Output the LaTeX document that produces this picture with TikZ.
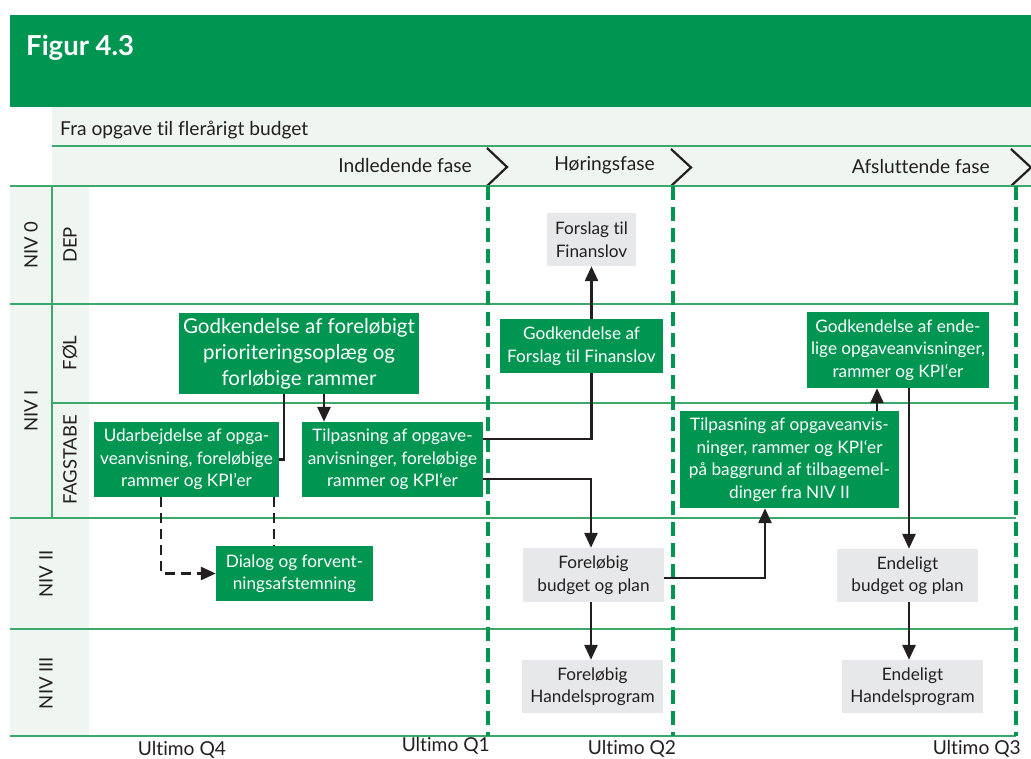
\documentclass[tikz,border=0pt]{standalone}
\usepackage{fontspec}
\setmainfont{Lato}[Ligatures={NoCommon}]
\usetikzlibrary{arrows.meta,calc}
\definecolor{dgreen}{RGB}{0,150,82}
\definecolor{lgreen}{RGB}{60,168,108}
\definecolor{lightbg}{RGB}{239,245,241}
\definecolor{boxgray}{RGB}{231,232,233}
\definecolor{ink}{RGB}{35,31,32}
\tikzset{
  gbox/.style={fill=dgreen, text=white, inner sep=0pt, align=center, font=\fontsize{17.2}{22.5}\selectfont},
  bigbox/.style={gbox, font=\fontsize{20.5}{26}\selectfont},
  graybox/.style={fill=boxgray, text=ink, inner sep=0pt, align=center, font=\fontsize{17.2}{22.5}\selectfont},
  conn/.style={line width=2.8pt, ink},
  arr/.style={conn, -{Triangle[length=15pt,width=13pt]}},
  dconn/.style={conn, dash pattern=on 10pt off 6pt},
  darr/.style={dconn, -{Triangle[length=15pt,width=13pt]}},
  gline/.style={lgreen, line width=1.5pt},
  gdash/.style={dgreen, line width=3.2pt, dash pattern=on 14pt off 7pt},
  chev/.style={ink, line width=2.2pt},
  lbl/.style={text=ink, inner sep=0pt, font=\fontsize{19.2}{22}\selectfont},
  sidelbl/.style={text=ink, inner sep=0pt, rotate=90, font=\fontsize{18.5}{20}\selectfont}
}
\begin{document}
\begin{tikzpicture}[x=1pt,y=-1pt]
\useasboundingbox (0,0) rectangle (1031,758);
% header
\fill[dgreen] (10,15) rectangle (1031,107);
\node[anchor=base west, text=white, inner sep=0pt, font=\fontsize{27.5}{30}\selectfont\bfseries] (fig) at (26,55) {Figur 4.3};
\fill[lightbg] (52,107) rectangle (1031,186);
\node[lbl, anchor=base west] (title) at (60,135) {Fra opgave til flerårigt budget};
\draw[gline] (52,146) -- (1031,146);
% left columns
\fill[lightbg] (10,186) rectangle (89,736);
% phase labels
\node[lbl, anchor=east] (ph1) at (472,166) {Indledende fase};
\node[lbl, anchor=east] (ph2) at (655,165) {Høringsfase};
\node[lbl, anchor=east] (ph3) at (990,167) {Afsluttende fase};
\draw[chev] (487,148) -- (507,167) -- (487,186);
\draw[chev] (671,149) -- (691,167.5) -- (671,186);
\draw[chev] (1011,149) -- (1031,167.5) -- (1011,186);
% grid lines
\draw[gline] (10,186) -- (1031,186);
\draw[gline] (10,304) -- (1016,304);
\draw[gline] (52,403) -- (1016,403);
\draw[gline] (10,518) -- (1016,518);
\draw[gline] (10,629) -- (1016,629);
\draw[gline] (10,736) -- (1016,736);
\draw[gline] (52,186) -- (52,518);
% side labels
\node[sidelbl] (n0) at (31,245) {NIV 0};
\node[sidelbl] (n1) at (31,411) {NIV I};
\node[sidelbl] (n2) at (46,574) {NIV II};
\node[sidelbl] (n3) at (46,683) {NIV III};
\node[sidelbl] (dep) at (70,245) {DEP};
\node[sidelbl] (fol) at (70,353) {FØL};
\node[sidelbl] (fag) at (70,460) {FAGSTABE};
% dashed phase boundaries
\draw[gdash] (488,186) -- (488,736);
\draw[gdash] (673,186) -- (673,736);
\draw[gdash] (1016,186) -- (1016,736);
% boxes
\node[bigbox, minimum width=240pt, minimum height=81pt] (godk1) at (299,353.5) {Godkendelse af foreløbigt\\prioriteringsoplæg og\\forløbige rammer};
\node[gbox, minimum width=185pt, minimum height=75pt] (udarb) at (186.5,459.5) {Udarbejdelse af opga-\\veanvisning, foreløbige\\rammer og KPI’er};
\node[gbox, minimum width=181pt, minimum height=75pt] (tilp1) at (392.5,459.5) {Tilpasning af opgave-\\anvisninger, foreløbige\\rammer og KPI‘er};
\node[gbox, minimum width=157pt, minimum height=55pt] (dialog) at (294.5,573.5) {Dialog og forvent-\\ningsafstemning};
\node[graybox, minimum width=89pt, minimum height=53pt] (forslag) at (591.5,239.5) {Forslag til\\Finanslov};
\node[gbox, minimum width=163pt, minimum height=54pt] (godk2) at (581.5,346) {Godkendelse af\\Forslag til Finanslov};
\node[gbox, minimum width=182pt, minimum height=76pt] (godk3) at (898,350) {Godkendelse af ende-\\lige opgaveanvisninger,\\rammer og KPI‘er};
\node[gbox, minimum width=219pt, minimum height=97pt] (tilp2) at (789.5,459.5) {Tilpasning af opgaveanvis-\\ninger, rammer og KPI‘er\\på baggrund af tilbagemel-\\dinger fra NIV II};
\node[graybox, minimum width=141pt, minimum height=54pt] (forel1) at (593.5,575) {Foreløbig\\budget og plan};
\node[graybox, minimum width=141pt, minimum height=53pt] (forel2) at (592.5,686.5) {Foreløbig\\Handelsprogram};
\node[graybox, minimum width=141pt, minimum height=53pt] (endel1) at (907.5,575.5) {Endeligt\\budget og plan};
\node[graybox, minimum width=141pt, minimum height=53pt] (endel2) at (912.5,686.5) {Endeligt\\Handelsprogram};
% connectors
\draw[conn] ([xshift=-15pt]godk1.south) |- (udarb.east);
\draw[arr] ([xshift=25pt]godk1.south) -- ([xshift=25pt]godk1.south |- tilp1.north);
\draw[darr] ([xshift=-25.5pt]udarb.south) |- (dialog.west);
\draw[dconn] ([xshift=87.5pt]udarb.south) -- ([xshift=87.5pt]udarb.south |- dialog.north);
\draw[conn] ([yshift=20.5pt]tilp1.east) -| (forslag.south |- godk2.south);
\draw[arr] (forslag.south |- godk2.north) -- (forslag.south);
\draw[arr] ([yshift=-19.5pt]tilp1.east) -| ([xshift=-2.5pt]forel1.north);
\draw[arr] ([xshift=-2.5pt]forel1.south) -- ([xshift=-2.5pt]forel1.south |- forel2.north);
\draw[arr] ([yshift=-3pt]forel1.east) -| ([xshift=-24.5pt]tilp2.south);
\draw[arr] ([xshift=87.5pt]tilp2.north) -- ([xshift=87.5pt]tilp2.north |- godk3.south);
\draw[arr] ([xshift=11pt]godk3.south) -- ([xshift=11pt]godk3.south |- endel1.north);
\draw[arr] ([xshift=1.5pt]endel1.south) -- ([xshift=1.5pt]endel1.south |- endel2.north);
% bottom labels
\node[lbl] (q4) at (182,750) {Ultimo Q4};
\node[lbl, anchor=east] (q1) at (490,746) {Ultimo Q1};
\node[lbl] (q2) at (632,749) {Ultimo Q2};
\node[lbl, anchor=east] (q3) at (1021,749) {Ultimo Q3};
\end{tikzpicture}
\end{document}
